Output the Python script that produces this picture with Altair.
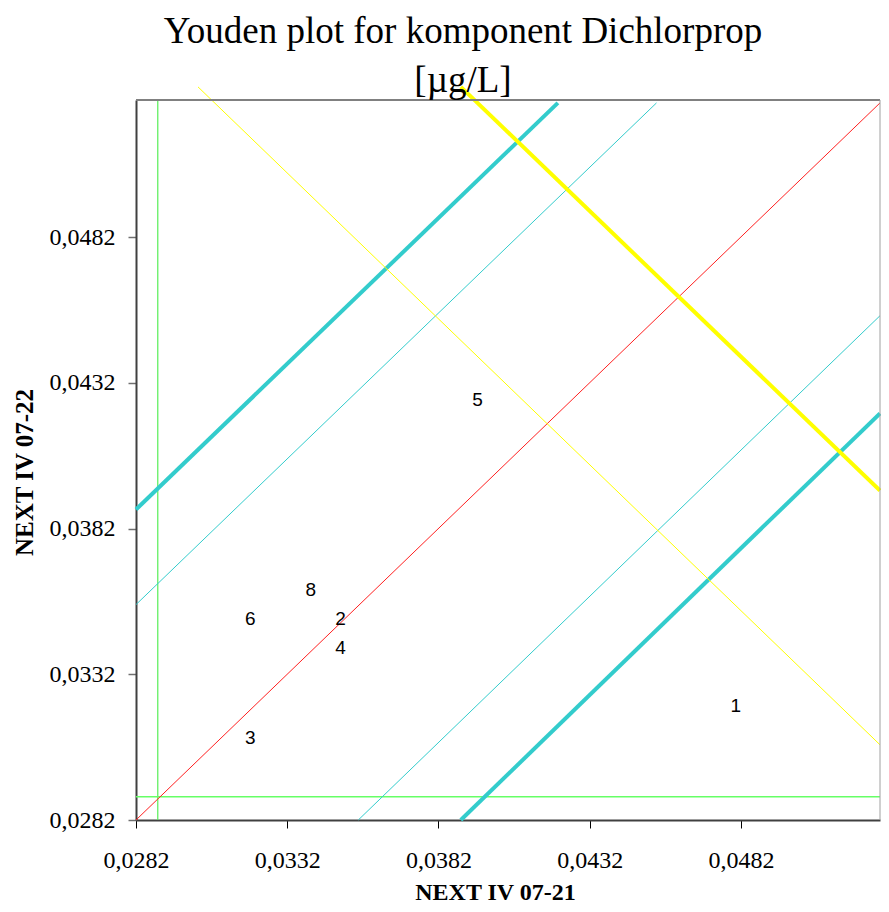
import altair as alt
import pandas as pd

# ---- data ----
lab_ids = ["1", "2", "3", "4", "5", "6", "8"]
lab_x = [0.04803, 0.03496, 0.03198, 0.03496, 0.03949, 0.03198, 0.03398]
lab_y = [0.03212, 0.03511, 0.03102, 0.03411, 0.04260, 0.03511, 0.03610]

line_names = ["green_v", "green_h", "diag", "cyan_up_thick", "cyan_up_thin",
              "cyan_lo_thin", "cyan_lo_thick", "yellow_thin", "yellow_thick"]
line_x0 = [0.02892, 0.0282, 0.0282, 0.0282, 0.0282, 0.03555, 0.03894, 0.03025, 0.03894]
line_y0 = [0.0282, 0.0290, 0.0282, 0.03885, 0.03559, 0.0282, 0.0282, 0.05335, 0.05335]
line_x1 = [0.02892, 0.0528, 0.0528, 0.04215, 0.04541, 0.0528, 0.0528, 0.0528, 0.0528]
line_y1 = [0.0529, 0.0290, 0.0528, 0.0528, 0.0528, 0.04550, 0.04215, 0.03078, 0.0395]
line_colors = ["#55ee55", "#66ff66", "#ff2020", "#33cccc", "#33cccc",
               "#33cccc", "#33cccc", "#ffff00", "#ffff00"]
line_widths = [1.2, 1.5, 1, 4, 1, 1, 4, 1, 4]

tick_vals = [0.0282, 0.0332, 0.0382, 0.0432, 0.0482]
x_domain = [0.0282, 0.0528]
y_domain = [0.0282, 0.0529]

rows = []
for n, x0, y0, x1, y1, c, w in zip(line_names, line_x0, line_y0, line_x1, line_y1,
                                   line_colors, line_widths):
    rows.append({"name": n, "ord": 0, "x": x0, "y": y0, "color": c, "w": w})
    rows.append({"name": n, "ord": 1, "x": x1, "y": y1, "color": c, "w": w})
lines_df = pd.DataFrame(rows)
labels_df = pd.DataFrame({"id": lab_ids, "x": lab_x, "y": lab_y})

label_expr = "replace(format(datum.value, '.4f'), '.', ',')"
serif = "Liberation Serif"

W, H = 744, 720

xs = alt.Scale(domain=x_domain, nice=False, zero=False)
ys = alt.Scale(domain=y_domain, nice=False, zero=False)

x_axis = alt.Axis(values=tick_vals, labelExpr=label_expr, grid=False,
                  labelFont=serif, labelFontSize=24, labelColor="black",
                  labelPadding=20, tickSize=8, tickColor="black", tickWidth=1,
                  domainColor="#404040", domainWidth=2,
                  title="NEXT IV 07-21", titleFont=serif, titleFontSize=24,
                  titleFontWeight="bold", titleColor="black",
                  titleX=359, titleY=72, titleBaseline="middle", labelFlush=False)
y_axis = alt.Axis(values=tick_vals, labelExpr=label_expr, grid=False,
                  labelFont=serif, labelFontSize=24, labelColor="black",
                  labelPadding=13, tickSize=8, tickColor="#707070", tickWidth=1.5,
                  domainColor="#404040", domainWidth=2,
                  title="NEXT IV 07-22", titleFont=serif, titleFontSize=25,
                  titleFontWeight="bold", titleColor="black",
                  titleX=-112, titleY=372, titleBaseline="middle", titleAngle=-90,
                  labelFlush=False)

top_rule = alt.Chart(pd.DataFrame({"a": [0]})).mark_rule(
    color="#808080", strokeWidth=2).encode(
    x=alt.value(0), x2=alt.value(W), y=alt.value(0))
right_rule = alt.Chart(pd.DataFrame({"a": [0]})).mark_rule(
    color="#a0a0a0", strokeWidth=1).encode(
    x=alt.value(W), y=alt.value(0), y2=alt.value(H))

lines = alt.Chart(lines_df).mark_line(clip=False).encode(
    x=alt.X("x:Q", scale=xs, axis=x_axis),
    y=alt.Y("y:Q", scale=ys, axis=y_axis),
    detail="name:N",
    order="ord:Q",
    color=alt.Color("color:N", scale=None),
    strokeWidth=alt.StrokeWidth("w:Q", scale=None),
)

texts = alt.Chart(labels_df).mark_text(
    font="Liberation Sans", fontSize=19, color="black",
    align="center", baseline="middle").encode(
    x=alt.X("x:Q", scale=xs),
    y=alt.Y("y:Q", scale=ys),
    text="id:N",
)

chart = alt.layer(lines, texts, top_rule, right_rule).properties(
    width=W, height=H,
    autosize=alt.AutoSizeParams(type="none"),
    padding={"left": 128, "top": 92, "right": 1, "bottom": 84},
    title=alt.Title(["Youden plot for komponent Dichlorprop", "[µg/L]"],
                    font=serif, fontSize=37, fontWeight="normal", color="black",
                    dx=-45, lineHeight=49, offset=-21, anchor="middle"),
).configure_view(stroke=None)

chart.save("out.html", embed_options={"renderer": "svg", "actions": False})
